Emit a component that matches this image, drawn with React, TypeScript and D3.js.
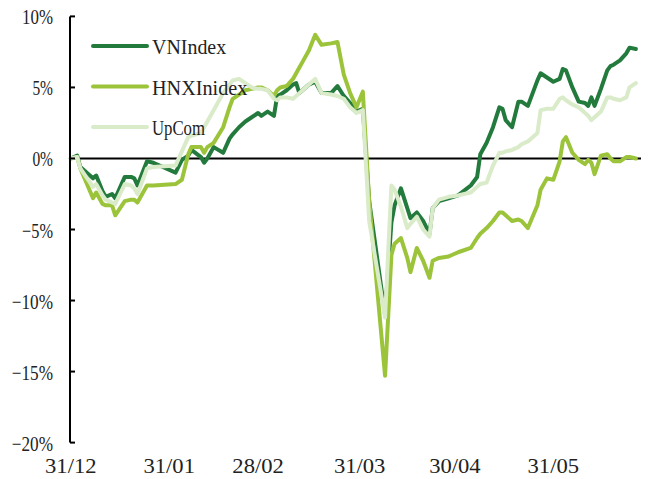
import React from "react";
import * as d3 from "d3";

const dates = [
  "2019-12-31","2020-01-02","2020-01-03","2020-01-07","2020-01-08","2020-01-10","2020-01-11","2020-01-13","2020-01-14","2020-01-17",
  "2020-01-19","2020-01-20","2020-01-21","2020-01-24","2020-01-26","2020-02-02","2020-02-04","2020-02-06","2020-02-07","2020-02-10",
  "2020-02-11","2020-02-12","2020-02-14","2020-02-17","2020-02-19","2020-02-20","2020-02-22","2020-02-24","2020-02-26","2020-02-28",
  "2020-02-29","2020-03-02","2020-03-04","2020-03-05","2020-03-06","2020-03-08","2020-03-10","2020-03-11","2020-03-12","2020-03-13",
  "2020-03-15","2020-03-17","2020-03-19","2020-03-22","2020-03-24","2020-03-26","2020-03-28","2020-03-30","2020-04-01","2020-04-03",
  "2020-04-08","2020-04-10","2020-04-11","2020-04-13","2020-04-15","2020-04-16","2020-04-18","2020-04-20","2020-04-22","2020-04-23",
  "2020-04-25","2020-04-28","2020-05-01","2020-05-05","2020-05-07","2020-05-08","2020-05-10","2020-05-12","2020-05-14","2020-05-15",
  "2020-05-16","2020-05-18","2020-05-20","2020-05-21","2020-05-23","2020-05-26","2020-05-27","2020-05-29","2020-05-31","2020-06-02",
  "2020-06-03","2020-06-04","2020-06-06","2020-06-08","2020-06-10","2020-06-11","2020-06-12","2020-06-13","2020-06-15","2020-06-17",
  "2020-06-18","2020-06-19","2020-06-21","2020-06-23","2020-06-24","2020-06-26",
];

const vnIndex = [
  0, 0.2, -0.6, -1.4, -1.2, -2.3, -2.7, -2.5, -2.8, -1.3,
  -1.3, -1.4, -1.9, -0.2, -0.3, -1.0, -0.1, 0.2, 0.6, 0.1,
  -0.3, 0.0, 0.8, 0.4, 1.4, 1.7, 2.2, 2.6, 2.9, 3.2,
  3.0, 3.3, 3.0, 4.4, 4.5, 4.8, 5.2, 5.3, 4.6, 4.8,
  5.2, 5.4, 4.6, 4.6, 5.1, 4.4, 3.9, 3.3, 3.5, -3.0,
  -11.0, -4.5, -3.3, -2.1, -3.5, -4.2, -3.8, -4.4, -5.3, -3.5,
  -3.0, -2.8, -2.6, -1.9, -1.3, 0.3, 1.1, 2.2, 3.6, 3.5,
  2.7, 2.2, 4.0, 4.0, 3.7, 5.5, 6.0, 5.7, 5.4, 5.6,
  6.3, 6.2, 5.0, 4.0, 3.9, 3.7, 4.3, 3.7, 4.9, 6.2,
  6.5, 6.6, 6.9, 7.4, 7.8, 7.7,
];

const hnxIndex = [
  0, 0.1, -0.7, -2.8, -2.4, -3.2, -3.3, -3.3, -4.0, -3.0,
  -2.9, -2.9, -3.1, -1.9, -1.9, -1.8, -1.5, 0.3, 0.8, 0.8,
  0.4, 0.8, 1.1, 2.2, 3.6, 4.2, 4.5, 4.8, 4.9, 5.0,
  5.0, 4.8, 4.4, 4.8, 5.0, 5.1, 5.6, 6.0, 6.4, 6.8,
  7.6, 8.7, 8.0, 8.1, 8.2, 5.9, 4.6, 3.6, 4.7, -3.0,
  -15.3, -6.8, -6.0, -5.6, -7.0, -8.0, -6.3, -7.2, -8.4, -7.2,
  -7.0, -6.9, -6.6, -6.3, -5.6, -5.3, -4.9, -4.4, -3.8, -3.8,
  -4.0, -4.4, -4.3, -4.4, -4.9, -3.3, -2.2, -1.4, -1.5, -0.2,
  1.2, 1.5, 0.4, -0.1, -0.4, -0.1, -0.3, -1.1, 0.2, 0.3,
  0.0, -0.2, -0.2, 0.1, 0.1, 0.0,
];

const upCom = [
  0, 0.1, -0.7, -2.0, -1.8, -2.6, -2.9, -3.1, -3.2, -1.8,
  -1.9, -2.1, -2.5, -0.7, -0.6, -0.5, 0.5, 1.5, 1.6, 1.8,
  2.2, 2.6, 3.4, 4.6, 5.2, 5.5, 5.6, 5.3, 5.0, 4.9,
  4.9, 4.8, 4.2, 4.1, 4.3, 4.3, 4.2, 4.4, 4.6, 4.8,
  5.2, 5.6, 4.6, 4.5, 4.4, 4.2, 3.6, 3.2, 3.4, -4.4,
  -11.2, -1.9, -2.2, -3.4, -4.9, -4.6, -4.1, -5.0, -5.5, -3.5,
  -2.9, -2.7, -2.6, -2.4, -2.0, -1.8, -1.7, -0.5, 0.4, 0.4,
  0.5, 0.6, 0.8, 1.0, 1.2, 1.8, 3.4, 3.5, 3.5, 4.2,
  4.3, 4.1, 3.8, 3.6, 3.2, 3.0, 2.7, 2.9, 3.3, 4.3,
  4.3, 4.2, 4.1, 4.3, 5.0, 5.3,
];

const seriesNames = ["VNIndex", "HNXInidex", "UpCom"];
const seriesColors = ["#237a3d", "#9cc43b", "#d9ebc9"];
const yTicks = [10, 5, 0, -5, -10, -15, -20];
const xTickDates = ["2019-12-31", "2020-01-31", "2020-02-28", "2020-03-31", "2020-04-30", "2020-05-31"];
const xTickLabels = ["31/12", "31/01", "28/02", "31/03", "30/04", "31/05"];

const W = 651;
const H = 479;
const FONT = "'Liberation Serif', 'DejaVu Serif', serif";
const CHAR_W = 10.3;

export default function App() {
  const parse = d3.utcParse("%Y-%m-%d");
  const xs = dates.map((d) => parse(d) as Date);
  const x = d3
    .scaleUtc()
    .domain([parse("2019-12-31") as Date, parse("2020-05-31") as Date])
    .range([70.8, 553.3]);
  const y = d3.scaleLinear().domain([-20, 10]).range([442.6, 16.4]);
  const allSeries = [vnIndex, hnxIndex, upCom];
  const line = d3
    .line<number>()
    .x((_, i) => x(xs[i]))
    .y((v) => y(v));

  const axisX = 70;
  const yLabel = (t: number) => (t < 0 ? "\u2212" + Math.abs(t) : String(t)) + "%";
  return (
    <svg
      width={W}
      height={H}
      style={{ position: "absolute", left: 0, top: 0, background: "#fff" }}
    >
      <line x1={axisX} x2={641} y1={y(0)} y2={y(0)} stroke="#000" strokeWidth={2} />
      {allSeries.map((s, i) => (
        <path
          key={seriesNames[i]}
          d={line(s) || ""}
          fill="none"
          stroke={seriesColors[i]}
          strokeWidth={4}
          strokeLinejoin="round"
          strokeLinecap="round"
        />
      ))}
      <line x1={axisX} x2={axisX} y1={y(10)} y2={y(-20)} stroke="#000" strokeWidth={2} />
      {yTicks.map((t) => (
        <g key={t}>
          <line x1={axisX} x2={axisX + 5} y1={y(t)} y2={y(t)} stroke="#000" strokeWidth={2} />
          <text
            x={53}
            y={y(t) + 8}
            textAnchor="end"
            fontFamily={FONT}
            fontSize={21}
            fill="#222"
            textLength={yLabel(t).length * CHAR_W}
            lengthAdjust="spacingAndGlyphs"
          >
            {yLabel(t)}
          </text>
        </g>
      ))}
      {xTickDates.map((d, i) => (
        <text
          key={d}
          x={x(parse(d) as Date)}
          y={473}
          textAnchor="middle"
          fontFamily={FONT}
          fontSize={21}
          fill="#222"
          textLength={xTickLabels[i].length * CHAR_W}
          lengthAdjust="spacingAndGlyphs"
        >
          {xTickLabels[i]}
        </text>
      ))}
      {seriesNames.map((n, i) => (
        <g key={n}>
          <line
            x1={93}
            x2={147}
            y1={46 + i * 40.5}
            y2={46 + i * 40.5}
            stroke={seriesColors[i]}
            strokeWidth={4}
            strokeLinecap="round"
          />
          <text
            x={152}
            y={54 + i * 40.5}
            fontFamily={FONT}
            fontSize={21}
            fill="#222"
            textLength={n.length * 10.6}
            lengthAdjust="spacingAndGlyphs"
          >
            {n}
          </text>
        </g>
      ))}
    </svg>
  );
}
